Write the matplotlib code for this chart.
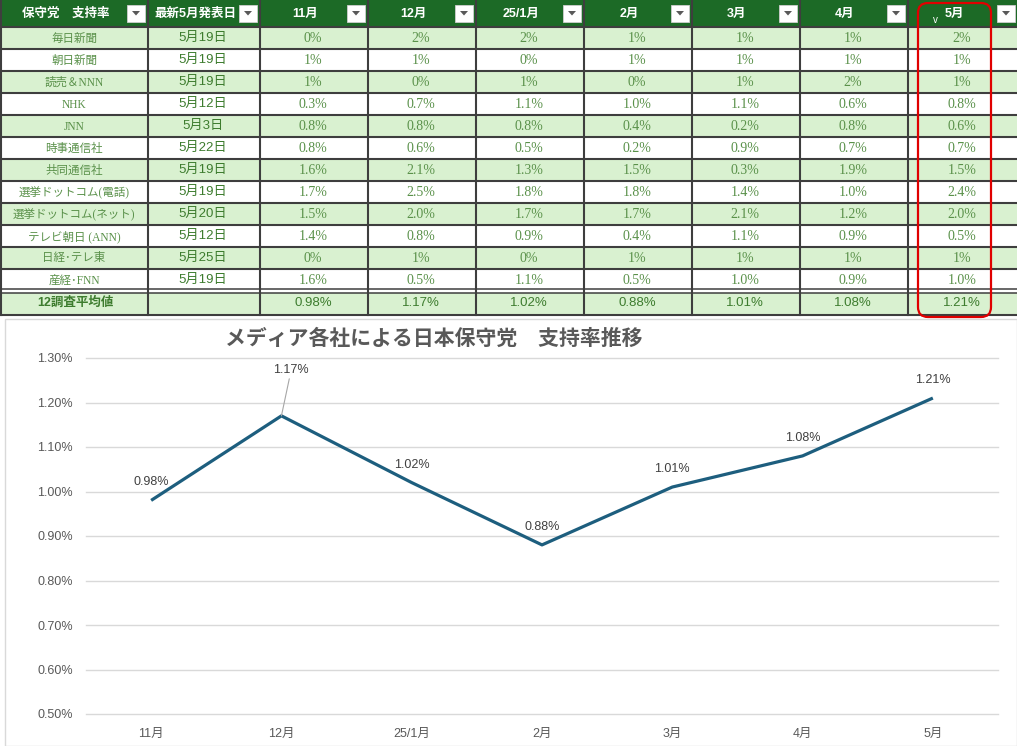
import matplotlib

matplotlib.use("Agg")
import matplotlib.pyplot as plt
import numpy as np
from matplotlib.patches import FancyBboxPatch, Polygon, Rectangle
from matplotlib.ticker import FuncFormatter

plt.rcParams["font.family"] = ["Liberation Sans", "Noto Sans CJK JP", "DejaVu Sans"]

# table / chart data
months = ["11月", "12月", "25/1月", "2月", "3月", "4月", "5月"]
header_left = ["保守党　支持率", "最新5月発表日"]
pollsters = [
    "毎日新聞", "朝日新聞", "読売＆NNN", "NHK", "JNN", "時事通信社",
    "共同通信社", "選挙ドットコム(電話)", "選挙ドットコム(ネット)",
    "テレビ朝日 (ANN)", "日経･テレ東", "産経･FNN",
]
latest_dates = [
    "5月19日", "5月19日", "5月19日", "5月12日", "5月3日", "5月22日",
    "5月19日", "5月19日", "5月20日", "5月12日", "5月25日", "5月19日",
]
poll_values = [
    ["0%", "2%", "2%", "1%", "1%", "1%", "2%"],
    ["1%", "1%", "0%", "1%", "1%", "1%", "1%"],
    ["1%", "0%", "1%", "0%", "1%", "2%", "1%"],
    ["0.3%", "0.7%", "1.1%", "1.0%", "1.1%", "0.6%", "0.8%"],
    ["0.8%", "0.8%", "0.8%", "0.4%", "0.2%", "0.8%", "0.6%"],
    ["0.8%", "0.6%", "0.5%", "0.2%", "0.9%", "0.7%", "0.7%"],
    ["1.6%", "2.1%", "1.3%", "1.5%", "0.3%", "1.9%", "1.5%"],
    ["1.7%", "2.5%", "1.8%", "1.8%", "1.4%", "1.0%", "2.4%"],
    ["1.5%", "2.0%", "1.7%", "1.7%", "2.1%", "1.2%", "2.0%"],
    ["1.4%", "0.8%", "0.9%", "0.4%", "1.1%", "0.9%", "0.5%"],
    ["0%", "1%", "0%", "1%", "1%", "1%", "1%"],
    ["1.6%", "0.5%", "1.1%", "0.5%", "1.0%", "0.9%", "1.0%"],
]
avg_label = "12調査平均値"
average_values = [0.98, 1.17, 1.02, 0.88, 1.01, 1.08, 1.21]
chart_title = "メディア各社による日本保守党　支持率推移"

# colours
HEADER_GREEN = "#1c6a26"
ROW_GREEN = "#d9f1d0"
TEXT_GREEN = "#5a914a"
DATE_GREEN = "#3d7c2e"
BORDER = "#3e3e3e"
GREY_TEXT = "#595959"
LINE_BLUE = "#1d5e7e"

SERIF = ["Liberation Serif", "Noto Sans CJK JP"]
SANS = ["Liberation Sans", "Noto Sans CJK JP"]

fig = plt.figure(figsize=(10.17, 7.46), dpi=100)

# ---- table drawn in pixel coordinates ----
tab = fig.add_axes([0, 0, 1, 1])
tab.set_xlim(0, 1017)
tab.set_ylim(746, 0)
tab.axis("off")

col_x = [0, 147, 259, 367, 475, 583, 691, 799, 907, 1017]
header_h = 26.5
row_h = 22
avg_top = 293
avg_bottom = 315

# header
tab.add_patch(Rectangle((0, 0), 1017, header_h, fc=HEADER_GREEN, ec="none"))
headers = header_left + months
for i, label in enumerate(headers):
    left, right = col_x[i], col_x[i + 1]
    btn_left = right - 20
    tab.text((left + btn_left) / 2 + 2, 13.5, label, ha="center", va="center",
             fontsize=9, fontweight="bold", color="white", family=SANS)
    tab.add_patch(Rectangle((btn_left, 4.5), 18, 17.5, fc="white", ec="#cfcfcf", lw=0.6))
    cx = btn_left + 9
    tab.add_patch(Polygon([[cx - 4, 11], [cx + 4, 11], [cx, 15.5]], closed=True,
                          fc=GREY_TEXT, ec="none"))
tab.text(935, 20, "v", ha="center", va="center", fontsize=7, color="white")

# data rows
for i, name in enumerate(pollsters):
    top = header_h + row_h * i
    fill = ROW_GREEN if i % 2 == 0 else "white"
    tab.add_patch(Rectangle((0, top), 1017, row_h, fc=fill, ec="none"))
    cy = top + row_h / 2
    tab.text(74, cy + 1, name, ha="center", va="center", fontsize=8.3,
             color=TEXT_GREEN, family=SERIF)
    tab.text(203, cy, latest_dates[i], ha="center", va="center", fontsize=9.5,
             color=DATE_GREEN, family=SANS)
    for j, val in enumerate(poll_values[i]):
        xc = (col_x[j + 2] + col_x[j + 3]) / 2
        tab.text(xc, cy + 1, val, ha="center", va="center", fontsize=10,
                 color=TEXT_GREEN, family=SERIF)

# average row
tab.add_patch(Rectangle((0, avg_top), 1017, avg_bottom - avg_top, fc=ROW_GREEN, ec="none"))
tab.text(75, 303, avg_label, ha="center", va="center", fontsize=9,
         fontweight="bold", color=DATE_GREEN, family=SANS)
for j, v in enumerate(average_values):
    xc = (col_x[j + 2] + col_x[j + 3]) / 2
    tab.text(xc, 303, f"{v:.2f}%", ha="center", va="center", fontsize=9.5,
             color=DATE_GREEN, family=SANS)

# grid lines of the table
n_rows = len(pollsters)
for k in range(n_rows):
    y = header_h + row_h * k
    tab.plot([0, 1017], [y, y], color=BORDER, lw=1.5, solid_capstyle="butt")
tab.plot([0, 1017], [289.3, 289.3], color=BORDER, lw=1.1)
tab.plot([0, 1017], [293, 293], color=BORDER, lw=1.1)
tab.plot([0, 1017], [avg_bottom, avg_bottom], color=BORDER, lw=1.5)
for x in col_x[:-1]:
    tab.plot([x + 0.75, x + 0.75], [0, avg_bottom], color=BORDER, lw=1.5)

# red highlight around the latest month
tab.add_patch(FancyBboxPatch((918, 3), 73, 314, boxstyle="round,pad=0,rounding_size=10",
                             fc="none", ec="#e00000", lw=1.6, zorder=5))

# chart frame
tab.add_patch(Rectangle((4.5, 319), 1012, 426.5, fc="white", ec="#d9d9d9", lw=1))

fig.text(434 / 1017, 1 - 338 / 746, chart_title, ha="center", va="center",
         fontsize=15, fontweight="bold", color=GREY_TEXT,
         family=["Noto Sans CJK JP", "DejaVu Sans"])

# ---- line chart ----
ax = fig.add_axes([86 / 1017, 32 / 746, 912 / 1017, 356 / 746])
x = np.arange(len(months))
ax.plot(x, average_values, color=LINE_BLUE, lw=2.3, solid_joinstyle="round",
        solid_capstyle="butt", zorder=3)
ax.set_xlim(-0.5, len(months) - 0.5)
ax.set_ylim(0.5, 1.3)
ax.set_yticks(np.arange(5, 14) / 10)
ax.yaxis.set_major_formatter(FuncFormatter(lambda v, _: f"{v:.2f}%"))
ax.set_xticks(x)
ax.set_xticklabels(months)
ax.grid(axis="y", color="#d9d9d9", lw=1)
for gl in ax.get_ygridlines():
    gl.set_clip_on(False)
ax.set_axisbelow(True)
for s in ax.spines.values():
    s.set_visible(False)
ax.tick_params(axis="both", length=0, labelsize=9, colors=GREY_TEXT)
ax.tick_params(axis="y", pad=9.5)
ax.tick_params(axis="x", pad=10)

for i, v in enumerate(average_values):
    if i == 1:
        ax.annotate(f"{v:.2f}%", (i, v), xytext=(7, 33), textcoords="offset points",
                    ha="center", va="center", fontsize=9, color="#404040",
                    arrowprops=dict(arrowstyle="-", color="#a6a6a6", lw=0.8,
                                    shrinkA=0, shrinkB=0))
    else:
        ax.annotate(f"{v:.2f}%", (i, v), xytext=(0, 13), textcoords="offset points",
                    ha="center", va="center", fontsize=9, color="#404040")

fig.savefig("out.png", dpi=100)
